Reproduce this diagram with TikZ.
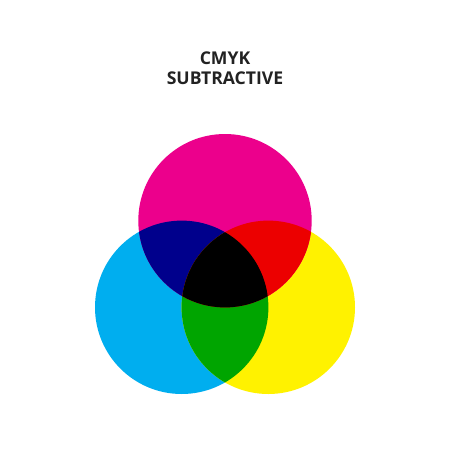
\documentclass[tikz,border=0pt]{standalone}
\usepackage{fontspec}
\setmainfont{Open Sans}
\definecolor{cmyC}{RGB}{0,174,239}
\definecolor{cmyM}{RGB}{236,0,140}
\definecolor{cmyY}{RGB}{255,242,0}
\definecolor{cmyB}{RGB}{0,0,140}
\definecolor{cmyR}{RGB}{236,0,0}
\definecolor{cmyG}{RGB}{0,165,0}
\definecolor{titlegray}{RGB}{34,34,34}
\begin{document}
\begin{tikzpicture}[x=1pt,y=-1pt,
  titletext/.style={font=\bfseries\fontsize{17.6}{20}\selectfont, text=titlegray, inner sep=0pt, anchor=base}]
\useasboundingbox (0,0) rectangle (450,450);
\fill[white] (0,0) rectangle (450,450);
\def\R{86.7}
\coordinate (m) at (225,220.7);
\coordinate (c) at (181.7,307.3);
\coordinate (y) at (268.3,307.3);
\fill[cmyC] (c) circle (\R);
\fill[cmyY] (y) circle (\R);
\fill[cmyM] (m) circle (\R);
\begin{scope}
  \clip (c) circle (\R);
  \fill[cmyB] (m) circle (\R);
  \fill[cmyG] (y) circle (\R);
\end{scope}
\begin{scope}
  \clip (m) circle (\R);
  \fill[cmyR] (y) circle (\R);
  \clip (c) circle (\R);
  \fill[black] (y) circle (\R);
\end{scope}
\node[titletext] (t1) at (225,64) {CMYK};
\node[titletext] (t2) at (225,84.5) {SUBTRACTIVE};
\end{tikzpicture}
\end{document}
